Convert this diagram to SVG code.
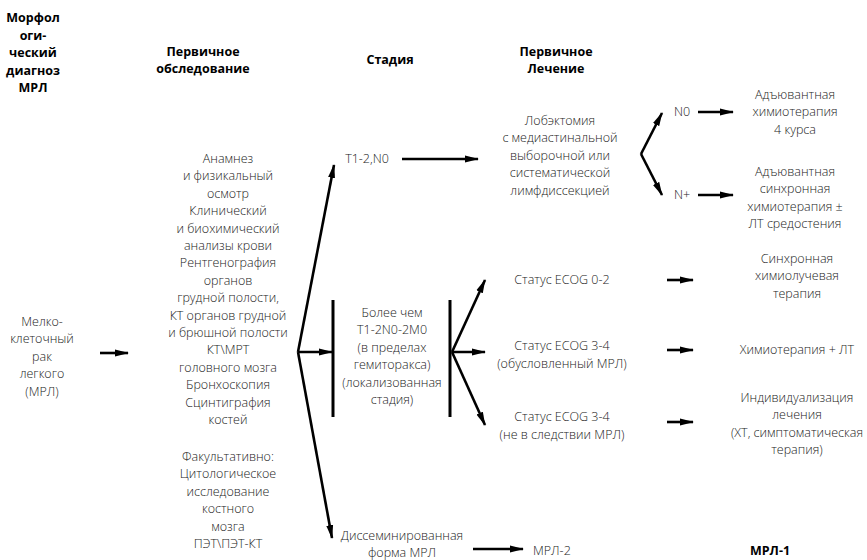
<svg xmlns="http://www.w3.org/2000/svg" width="867" height="560" viewBox="0 0 867 560">
<style>
text{font-family:"Open Sans","Liberation Sans",sans-serif;font-size:12.5px;font-weight:300;fill:#1a1a1a;text-anchor:middle}
.h{font-weight:700;font-size:12.5px;fill:#000}
.l{text-anchor:start}
.c{stroke:#000;stroke-width:2.6;fill:none}
.bar{stroke:#000;stroke-width:3;fill:none}
</style>
<defs>
<marker id="ah" markerUnits="userSpaceOnUse" markerWidth="14" markerHeight="8" viewBox="0 0 14 8" refX="13" refY="4" orient="auto">
<path d="M0,0.5 L14,4 L0,7.5 z" fill="#000"/>
</marker>
</defs>
<rect width="867" height="560" fill="#fff"/>
<g id="headers">
<text class="h" x="33" y="22">Морфол</text>
<text class="h" x="33" y="39.5">оги-</text>
<text class="h" x="33" y="57">ческий</text>
<text class="h" x="33" y="74.5">диагноз</text>
<text class="h" x="33" y="92">МРЛ</text>
<text class="h" x="203" y="56">Первичное</text>
<text class="h" x="203" y="73">обследование</text>
<text class="h" x="390" y="64">Стадия</text>
<text class="h" x="556" y="56">Первичное</text>
<text class="h" x="556" y="73">Лечение</text>
</g>
<g id="diagnosis">
<text x="42" y="326">Мелко-</text>
<text x="42" y="343.4">клеточный</text>
<text x="42" y="360.8">рак</text>
<text x="42" y="378.2">легкого</text>
<text x="42" y="395.6">(МРЛ)</text>
</g>
<g id="exam">
<text x="228" y="163">Анамнез</text>
<text x="228" y="180.4">и физикальный</text>
<text x="228" y="197.8">осмотр</text>
<text x="228" y="215.2">Клинический</text>
<text x="228" y="232.6">и биохимический</text>
<text x="228" y="250">анализы крови</text>
<text x="228" y="267.4">Рентгенография</text>
<text x="228" y="284.8">органов</text>
<text x="228" y="302.2">грудной полости,</text>
<text x="228" y="319.6">КТ органов грудной</text>
<text x="228" y="337">и брюшной полости</text>
<text x="228" y="354.4">КТ\МРТ</text>
<text x="228" y="371.8">головного мозга</text>
<text x="228" y="389.2">Бронхоскопия</text>
<text x="228" y="406.6">Сцинтиграфия</text>
<text x="228" y="424">костей</text>
<text x="228" y="461">Факультативно:</text>
<text x="228" y="478.4">Цитологическое</text>
<text x="228" y="495.8">исследование</text>
<text x="228" y="513.2">костного</text>
<text x="228" y="530.6">мозга</text>
<text x="228" y="548">ПЭТ\ПЭТ-КТ</text>
</g>
<g id="stage-t12n0">
<text x="367" y="163">T1-2,N0</text>
</g>
<g id="stage-local">
<line class="bar" x1="333" y1="300" x2="333" y2="417"/>
<line class="bar" x1="450" y1="300" x2="450" y2="417"/>
<text x="392" y="317">Более чем</text>
<text x="392" y="334.4">T1-2N0-2M0</text>
<text x="392" y="351.8">(в пределах</text>
<text x="392" y="369.2">гемиторакса)</text>
<text x="392" y="386.6">(локализованная</text>
<text x="392" y="404">стадия)</text>
</g>
<g id="stage-dissem">
<text x="402" y="540">Диссеминированная</text>
<text x="402" y="557">форма МРЛ</text>
</g>
<g id="lobectomy">
<text x="560" y="125">Лобэктомия</text>
<text x="560" y="142.4">с медиастинальной</text>
<text x="560" y="159.8">выборочной или</text>
<text x="560" y="177.2">систематической</text>
<text x="560" y="194.6">лимфдиссекцией</text>
</g>
<g id="n0"><text x="682" y="116">N0</text></g>
<g id="nplus"><text x="682" y="199">N+</text></g>
<g id="adj1">
<text x="795" y="99">Адъювантная</text>
<text x="795" y="116.4">химиотерапия</text>
<text x="795" y="133.8">4 курса</text>
</g>
<g id="adj2">
<text x="795" y="176">Адъювантная</text>
<text x="795" y="193.4">синхронная</text>
<text x="795" y="210.8">химиотерапия ±</text>
<text x="795" y="228.2">ЛТ средостения</text>
</g>
<g id="ecog02"><text x="562" y="284">Статус ECOG 0-2</text></g>
<g id="ecog34a">
<text x="562" y="350">Статус ECOG 3-4</text>
<text x="562" y="368.4">(обусловленный МРЛ)</text>
</g>
<g id="ecog34b">
<text x="562" y="421">Статус ECOG 3-4</text>
<text x="562" y="439.4">(не в следствии МРЛ)</text>
</g>
<g id="chemorad">
<text x="797" y="263">Синхронная</text>
<text x="797" y="280.4">химиолучевая</text>
<text x="797" y="297.8">терапия</text>
</g>
<g id="chemo-lt"><text x="797" y="354">Химиотерапия + ЛТ</text></g>
<g id="individual">
<text x="797" y="402">Индивидуализация</text>
<text x="797" y="419.4">лечения</text>
<text x="797" y="436.8">(ХТ, симптоматическая</text>
<text x="797" y="454.2">терапия)</text>
</g>
<g id="mrl2"><text class="l" x="533" y="555">МРЛ-2</text></g>
<g id="mrl1"><text class="h" x="770" y="555">МРЛ-1</text></g>
<g id="connectors">
<line class="c" x1="100" y1="353" x2="128" y2="353" marker-end="url(#ah)"/>
<line class="c" x1="298" y1="352" x2="334" y2="165" marker-end="url(#ah)"/>
<line class="c" x1="298" y1="352" x2="332" y2="538" marker-end="url(#ah)"/>
<line class="c" x1="298" y1="352" x2="332" y2="352" marker-end="url(#ah)"/>
<line class="c" x1="402" y1="159" x2="478" y2="159" marker-end="url(#ah)"/>
<line class="c" x1="641" y1="154" x2="662" y2="113" marker-end="url(#ah)"/>
<line class="c" x1="641" y1="154" x2="662" y2="195" marker-end="url(#ah)"/>
<line class="c" x1="698" y1="112" x2="733" y2="112" marker-end="url(#ah)"/>
<line class="c" x1="698" y1="195" x2="733" y2="195" marker-end="url(#ah)"/>
<line class="c" x1="452" y1="352" x2="485" y2="280" marker-end="url(#ah)"/>
<line class="c" x1="452" y1="352" x2="485" y2="352" marker-end="url(#ah)"/>
<line class="c" x1="452" y1="352" x2="485" y2="425" marker-end="url(#ah)"/>
<line class="c" x1="667" y1="280" x2="693" y2="280" marker-end="url(#ah)"/>
<line class="c" x1="667" y1="350" x2="693" y2="350" marker-end="url(#ah)"/>
<line class="c" x1="667" y1="422" x2="693" y2="422" marker-end="url(#ah)"/>
<line class="c" x1="473" y1="549" x2="523" y2="549" marker-end="url(#ah)"/>
</g>
</svg>
